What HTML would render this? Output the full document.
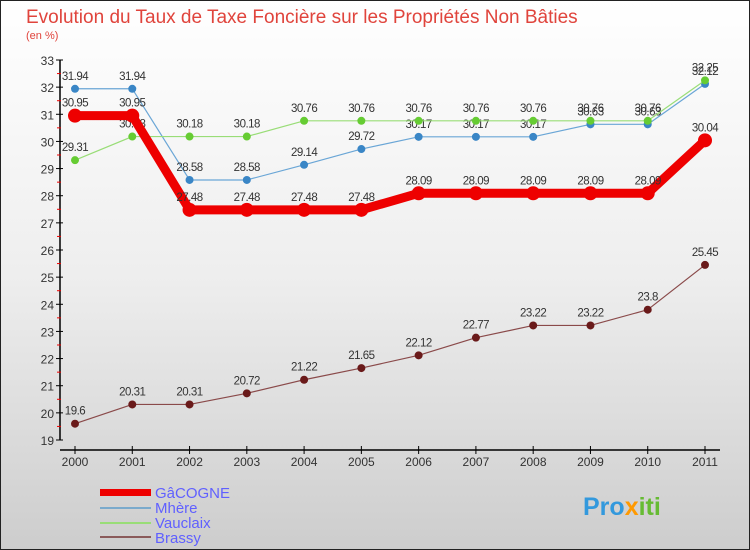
<!DOCTYPE html>
<html><head><meta charset="utf-8"><style>
body{margin:0}
#c{width:750px;height:550px;position:relative;overflow:hidden}
svg text{font-family:"Liberation Sans",sans-serif}
</style></head><body>
<div id="c">
<svg id="s" width="750" height="550" xmlns="http://www.w3.org/2000/svg">
<defs><linearGradient id="bg" x1="0" y1="0" x2="0" y2="1"><stop offset="0" stop-color="#ffffff"/><stop offset="0.5" stop-color="#eeeeee"/><stop offset="1" stop-color="#cdcdcd"/></linearGradient></defs>
<rect x="0.5" y="0.5" width="749" height="549" fill="url(#bg)" stroke="#222"/>
<text x="26" y="23" font-size="19" fill="#e0443c">Evolution du Taux de Taxe Foncière sur les Propriétés Non Bâties</text>
<text x="26" y="39" font-size="11" fill="#e0443c">(en %)</text>
<g id="axes"></g><g id="series"></g>
<g>
<rect x="100" y="489" width="51" height="7" fill="#ee0000"/>
<text x="155" y="498" font-size="15" fill="#6060ff">GâCOGNE</text>
<rect x="100" y="507" width="51" height="2" fill="#7aaacc"/>
<text x="155" y="513" font-size="15" fill="#6060ff">Mhère</text>
<rect x="100" y="522" width="51" height="2" fill="#99dd77"/>
<text x="155" y="528" font-size="15" fill="#6060ff">Vauclaix</text>
<rect x="100" y="536" width="51" height="2" fill="#8a5a5a"/>
<text x="155" y="543" font-size="15" fill="#6060ff">Brassy</text>
</g>
<text x="583" y="515" font-size="25" font-weight="bold" fill="#3399dd">Pro<tspan fill="#ff9900">x</tspan><tspan fill="#66bb33">iti</tspan></text>
</svg></div>
<script>
const years=[2000,2001,2002,2003,2004,2005,2006,2007,2008,2009,2010,2011];
const yTicks=[19,20,21,22,23,24,25,26,27,28,29,30,31,32,33];
const gacogne=[30.95,30.95,27.48,27.48,27.48,27.48,28.09,28.09,28.09,28.09,28.09,30.04];
const mhere=[31.94,31.94,28.58,28.58,29.14,29.72,30.17,30.17,30.17,30.63,30.63,32.12];
const vauclaix=[29.31,30.18,30.18,30.18,30.76,30.76,30.76,30.76,30.76,30.76,30.76,32.25];
const brassy=[19.6,20.31,20.31,20.72,21.22,21.65,22.12,22.77,23.22,23.22,23.8,25.45];
const NS='http://www.w3.org/2000/svg';
const xS=i=>75+i*(630/(years.length-1));
const yS=v=>440-(v-19)*(380/14);
function mk(tag,attrs,parent){const e=document.createElementNS(NS,tag);for(const k in attrs)e.setAttribute(k,attrs[k]);parent.appendChild(e);return e;}
const ax=document.getElementById('axes');
let l=mk('line',{x1:60,y1:yS(33),x2:60,y2:yS(19),stroke:'#000','stroke-width':1.5},ax);


l=mk('line',{x1:60,y1:450,x2:720,y2:450,stroke:'#000','stroke-width':1.5},ax);


yTicks.forEach(v=>{
 mk('line',{x1:56,y1:yS(v),x2:63,y2:yS(v),stroke:'#000'},ax);
 if(v<33)mk('line',{x1:57,y1:yS(v+0.5),x2:61,y2:yS(v+0.5),stroke:'#e00'},ax);
 const t=mk('text',{x:54,y:yS(v)+5,'font-size':12,fill:'#333','text-anchor':'end'},ax);
 t.textContent=v;
 
 
});
years.forEach((y,i)=>{
 mk('line',{x1:xS(i),y1:446,x2:xS(i),y2:454,stroke:'#000'},ax);
 const t=mk('text',{x:xS(i),y:466,'font-size':12,fill:'#333','text-anchor':'middle'},ax);
 t.textContent=y;
 
 
});
const sg=document.getElementById('series');
function draw(data,color,w,r,name,dot){
 const g=mk('g',{},sg);
 
 
 const p=mk('polyline',{points:data.map((v,i)=>xS(i)+','+yS(v)).join(' '),fill:'none',stroke:color,'stroke-width':w,'stroke-linejoin':'round'},g);
 
 
 data.forEach((v,i)=>{
  const c=mk('circle',{cx:xS(i),cy:yS(v),r:r,fill:dot},g);
  
  
  const t=mk('text',{x:xS(i),y:yS(v)-9,'font-size':11.5,fill:'#333','text-anchor':'middle','letter-spacing':'-0.5'},g);
  t.textContent=v;
  
  
 });
}
draw(brassy,'#8a4a4a',1.2,4,'brassy','#6a1a1a');
draw(mhere,'#6aa6d6',1.2,4,'mhere','#3a86c6');
draw(vauclaix,'#99dd77',1.2,4,'vauclaix','#66cc33');
draw(gacogne,'#ee0000',9,7,'gacogne','#ee0000');
</script>
</body></html>
